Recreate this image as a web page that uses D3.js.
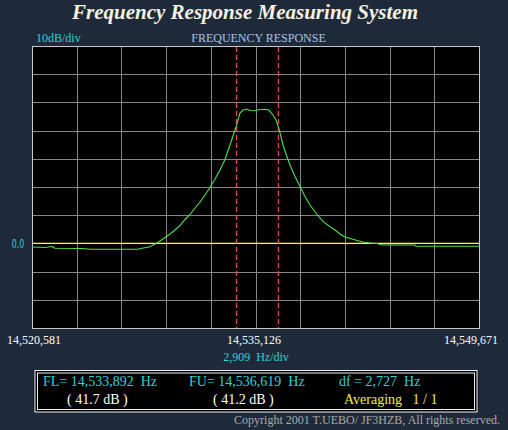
<!DOCTYPE html>
<html>
<head>
<meta charset="utf-8">
<script src="https://cdn.jsdelivr.net/npm/d3@7"></script>
<style>
  html, body { margin: 0; padding: 0; background: #1e2a39; }
  svg { display: block; }
</style>
</head>
<body>
<svg id="chart" width="508" height="430"></svg>
<script>
// Datos
const freqStart = 14520581;
const freqEnd = 14549671;
const freqLabels = [14520581, 14535126, 14549671];
const dbTicks = [-30, -20, -10, 0, 10, 20, 30, 40, 50, 60, 70];
const markerFreqs = [14533892, 14536619];

const freqHz = [
  14520581, 14521427, 14521883, 14522078, 14523835, 14524356, 14527479, 14527740,
  14528260, 14528586, 14528911, 14529237, 14529562, 14529887, 14530213, 14530538,
  14530863, 14531189, 14531514, 14531840, 14532165, 14532491, 14532816, 14533141,
  14533467, 14533662, 14533792, 14533892, 14533922, 14534117, 14534313, 14534573,
  14534768, 14535159, 14535289, 14535744, 14536004, 14536265, 14536461, 14536619,
  14536721, 14536936, 14537157, 14537372, 14537697, 14538022, 14538348, 14538673,
  14539109, 14539538, 14539974, 14540300, 14540625, 14540951, 14541407, 14541797,
  14542187, 14542578, 14543033, 14543359, 14545507, 14545572, 14549671
];
const levelDb = [
  -1.28, -1.45, -1.1, -1.74, -1.81, -2.09, -2.09, -1.74,
  -1.17, -0.21, 0.85, 2.09, 3.33, 4.75, 6.35, 8.48,
  10.25, 12.55, 14.68, 17.16, 19.82, 22.84, 26.03, 29.75,
  34.89, 38.09, 40.3, 41.7, 42.6, 46.24, 47.3, 47.66,
  47.13, 47.06, 47.41, 47.55, 47.2, 45.53, 43.76, 41.2,
  39.15, 34.54, 30.99, 27.8, 23.72, 20.18, 16.63, 13.62,
  10.43, 7.7, 5.92, 4.75, 3.33, 2.27, 1.56, 0.96,
  0.39, 0.14, -0.04, -0.57, -0.57, -1.03, -1.03
];

const svg = d3.select("#chart");
const plot = { left: 32, right: 479, top: 46, bottom: 328 };

const x = d3.scaleLinear().domain([freqStart, freqEnd]).range([plot.left, plot.right]);
const y = d3.scaleLinear().domain([-30, 70]).range([plot.bottom, plot.top]);
const fmt = d3.format(",");
const px = v => Math.round(v) + 0.5;

// Titulo
svg.append("text")
  .attr("x", 245).attr("y", 19)
  .attr("text-anchor", "middle")
  .attr("font-family", "Liberation Serif, serif")
  .attr("font-style", "italic").attr("font-weight", "bold")
  .attr("font-size", 21)
  .attr("fill", "#f6f1e1")
  .text("Frequency Response Measuring System");

svg.append("text")
  .attr("x", 36).attr("y", 42)
  .attr("font-family", "Liberation Serif, serif").attr("font-size", 12)
  .attr("fill", "#2ed3d3")
  .text("10dB/div");

svg.append("text")
  .attr("x", 258.5).attr("y", 42)
  .attr("text-anchor", "middle")
  .attr("font-family", "Liberation Serif, serif").attr("font-size", 12)
  .attr("fill", "#a9c3ea")
  .text("FREQUENCY RESPONSE");

// Area del grafico
svg.append("rect")
  .attr("x", plot.left).attr("y", plot.top)
  .attr("width", plot.right - plot.left).attr("height", plot.bottom - plot.top)
  .attr("fill", "#000");

const step = (freqEnd - freqStart) / 10;
const freqGrid = d3.range(1, 10).map(i => freqStart + i * step);

const grid = svg.append("g").attr("shape-rendering", "crispEdges");

grid.selectAll("line.v")
  .data(freqGrid).join("line")
  .attr("class", "v")
  .attr("x1", d => px(x(d))).attr("x2", d => px(x(d)))
  .attr("y1", plot.top).attr("y2", plot.bottom)
  .attr("stroke", "#858585");

grid.selectAll("line.h")
  .data(dbTicks.filter(d => d > -30 && d < 70 && d !== 0)).join("line")
  .attr("class", "h")
  .attr("x1", plot.left).attr("x2", plot.right)
  .attr("y1", d => px(y(d))).attr("y2", d => px(y(d)))
  .attr("stroke", "#858585");

grid.append("rect")
  .attr("x", plot.left + 0.5).attr("y", plot.top + 0.5)
  .attr("width", plot.right - plot.left).attr("height", plot.bottom - plot.top)
  .attr("fill", "none").attr("stroke", "#c8c8c8");

// Linea de 0 dB
svg.append("line")
  .attr("x1", plot.left + 1).attr("x2", plot.right)
  .attr("y1", y(0)).attr("y2", y(0))
  .attr("stroke", "#ffff3c").attr("stroke-width", 1.4);

// Marcadores FL / FU
svg.append("g").selectAll("line")
  .data(markerFreqs).join("line")
  .attr("x1", d => x(d)).attr("x2", d => x(d))
  .attr("y1", plot.top + 1).attr("y2", plot.bottom)
  .attr("stroke", "#f04a46").attr("stroke-width", 1.3)
  .attr("stroke-dasharray", "5,3");

// Curva de respuesta
const line = d3.line()
  .x((d, i) => x(freqHz[i]))
  .y(d => y(d));

svg.append("path")
  .datum(levelDb)
  .attr("d", line)
  .attr("fill", "none")
  .attr("stroke", "#4ee04e")
  .attr("stroke-width", 1.1);

svg.append("text")
  .attr("x", 18).attr("y", y(0) + 5)
  .attr("text-anchor", "middle")
  .attr("font-family", "DejaVu Sans Condensed, Liberation Sans, sans-serif").attr("font-size", 13)
  .attr("textLength", 12.5).attr("lengthAdjust", "spacingAndGlyphs")
  .attr("fill", "#2ed3d3")
  .text("0.0");

// Etiquetas de frecuencia
const anchors = ["start", "middle", "end"];
const labelX = [7, 254, 498];
svg.append("g").selectAll("text")
  .data(freqLabels).join("text")
  .attr("x", (d, i) => labelX[i]).attr("y", 343.5)
  .attr("text-anchor", (d, i) => anchors[i])
  .attr("font-family", "Liberation Serif, serif").attr("font-size", 12)
  .attr("fill", "#ffffff")
  .text(d => fmt(d));

svg.append("text")
  .attr("x", 256).attr("y", 360.5)
  .attr("text-anchor", "middle")
  .attr("font-family", "Liberation Serif, serif").attr("font-size", 12)
  .attr("fill", "#2ed3d3")
  .attr("xml:space", "preserve")
  .text(fmt(Math.round(step)) + "  Hz/div");

// Caja de resultados
svg.append("rect")
  .attr("x", 35).attr("y", 370.5).attr("width", 442).attr("height", 41.5)
  .attr("fill", "#000").attr("stroke", "#f0f0f0");
svg.append("rect")
  .attr("x", 37.5).attr("y", 373).attr("width", 437).attr("height", 36.5)
  .attr("fill", "none").attr("stroke", "#f0f0f0");

const info = [
  { x: 43, y: 386, c: "#2ed3d3", t: "FL= " + fmt(markerFreqs[0]) + "  Hz" },
  { x: 189, y: 386, c: "#2ed3d3", t: "FU= " + fmt(markerFreqs[1]) + "  Hz" },
  { x: 339, y: 386, c: "#2ed3d3", t: "df = " + fmt(markerFreqs[1] - markerFreqs[0]) + "  Hz" },
  { x: 67, y: 403.5, c: "#ffffff", t: "( 41.7 dB )" },
  { x: 213, y: 403.5, c: "#ffffff", t: "( 41.2 dB )" },
  { x: 344, y: 403.5, c: "#f0f03c", t: "Averaging   1 / 1" }
];
svg.append("g").selectAll("text")
  .data(info).join("text")
  .attr("x", d => d.x).attr("y", d => d.y)
  .attr("font-family", "Liberation Serif, serif").attr("font-size", 14)
  .attr("fill", d => d.c)
  .attr("xml:space", "preserve")
  .text(d => d.t);

svg.append("text")
  .attr("x", 500).attr("y", 424)
  .attr("text-anchor", "end")
  .attr("font-family", "Liberation Serif, serif").attr("font-size", 12)
  .attr("fill", "#a9a9a9")
  .text("Copyright 2001 T.UEBO/ JF3HZB, All rights reserved.");
</script>
</body>
</html>
